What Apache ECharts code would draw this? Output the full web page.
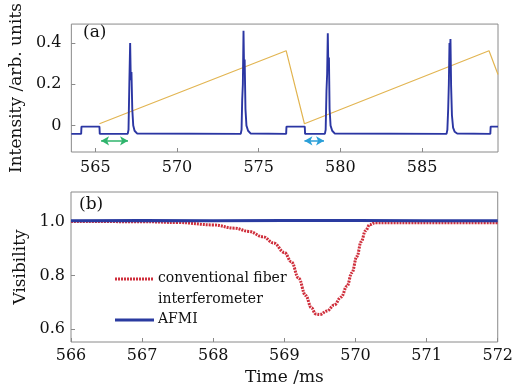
<!DOCTYPE html>
<html><head><meta charset="utf-8">
<script src="https://cdn.jsdelivr.net/npm/echarts@6/dist/echarts.min.js"></script>
<style>html,body{margin:0;padding:0;background:#fff}#c{width:516px;height:387px}</style>
</head><body><div id="c"></div>
<script>
// ---- Panel (a) data ----
const aXTicks = [565, 570, 575, 580, 585];
const aYTicks = [0, 0.2, 0.4];
const aIntensity = [
  [563.53,-0.04],[564.13,-0.04],[564.15,-0.005],[565.25,-0.005],[565.27,-0.04],
  [566.98,-0.04],[567.03,-0.02],[567.08,0.2],[567.13,0.40],[567.17,0.22],[567.21,0.26],[567.26,0.08],[567.32,0.0],[567.4,-0.025],[567.55,-0.038],
  [573.9,-0.04],[573.95,-0.02],[573.99,0.125],[574.03,0.2],[574.07,0.46],[574.1,0.3],[574.14,0.32],[574.19,0.08],[574.25,0.0],[574.35,-0.025],[574.5,-0.038],
  [576.68,-0.04],[576.7,-0.005],[577.82,-0.005],[577.84,-0.04],
  [579.05,-0.04],[579.1,-0.02],[579.15,0.17],[579.19,0.25],[579.23,0.447],[579.26,0.3],[579.3,0.33],[579.34,0.08],[579.4,0.0],[579.5,-0.025],[579.65,-0.038],
  [586.5,-0.04],[586.55,-0.02],[586.6,0.08],[586.64,0.2],[586.68,0.40],[586.71,0.35],[586.74,0.42],[586.78,0.19],[586.83,0.05],[586.9,-0.01],[587.0,-0.03],[587.15,-0.038],
  [589.18,-0.04],[589.2,-0.005],[589.65,-0.005]
];
const aRamp = [[565.25,0.009],[576.68,0.363],[577.8,0.009],[589.1,0.363],[589.65,0.248]];
const aArrowGreen = [[565.35,-0.074],[567.0,-0.074]];
const aArrowBlue = [[577.8,-0.074],[579.0,-0.074]];

// ---- Panel (b) data ----
const bYTicks = [0.6, 0.8, 1.0];
const bConventional = [
  [566,1.0],[567,0.999],[567.5,0.996],[568.0,0.987],[568.3,0.975],[568.5,0.963],[568.7,0.943],[568.85,0.92],[569.0,0.885],
  [569.1,0.85],[569.2,0.79],[569.3,0.725],[569.38,0.68],[569.44,0.657],[569.5,0.655],[569.6,0.668],[569.7,0.69],[569.8,0.72],
  [569.88,0.76],[569.95,0.81],[570.02,0.87],[570.08,0.925],[570.14,0.965],[570.2,0.988],[570.28,0.995],[571,0.995],[572,0.995]
];
const bAFMI = [[566,1.002],[567,1.003],[568,1.002],[569,1.003],[570,1.003],[571,1.002],[572,1.002]];

const serif = '"DejaVu Serif", serif';
const axisCol = '#8a8a8a';

const chart = echarts.init(document.getElementById('c'), null, {renderer:'canvas'});
chart.setOption({
  animation: false,
  backgroundColor: '#fff',
  grid: [
    {left:71, right:18, top:17, height:135, show:true, borderColor:axisCol, borderWidth:1},
    {left:71, right:16, top:192, height:152, show:true, borderColor:axisCol, borderWidth:1}
  ],
  xAxis: [
    {type:'value', gridIndex:0, min:563.53, max:589.65,
     axisLine:{show:false, onZero:false}, splitLine:{show:false},
     axisTick:{show:true, inside:true, length:4, lineStyle:{color:axisCol}, customValues:aXTicks},
     axisLabel:{customValues:aXTicks, fontFamily:serif, fontSize:16, color:'#111', margin:8}},
    {type:'value', gridIndex:1, min:566, max:572, interval:1,
     name:'Time /ms', nameLocation:'middle', nameGap:27, nameTextStyle:{fontFamily:serif, fontSize:17, color:'#111'},
     axisLine:{show:false, onZero:false}, splitLine:{show:false},
     axisTick:{show:true, inside:true, length:4, lineStyle:{color:axisCol}},
     axisLabel:{fontFamily:serif, fontSize:16, color:'#111', margin:6}}
  ],
  yAxis: [
    {type:'value', gridIndex:0, min:-0.128, max:0.492,
     name:'Intensity /arb. units', nameLocation:'middle', nameGap:46, nameTextStyle:{fontFamily:serif, fontSize:17, color:'#111'},
     axisLine:{show:false, onZero:false}, splitLine:{show:false},
     axisTick:{show:true, inside:true, length:4, lineStyle:{color:axisCol}, customValues:aYTicks},
     axisLabel:{customValues:aYTicks, fontFamily:serif, fontSize:16, color:'#111', margin:10,
       formatter:v => (Math.abs(v)<1e-9 ? '0' : v.toFixed(1))}},
    {type:'value', gridIndex:1, min:0.553, max:1.109,
     name:'Visibility', nameLocation:'middle', nameGap:40, nameTextStyle:{fontFamily:serif, fontSize:17, color:'#111'},
     axisLine:{show:false, onZero:false}, splitLine:{show:false},
     axisTick:{show:true, inside:true, length:4, lineStyle:{color:axisCol}, customValues:bYTicks},
     axisLabel:{customValues:bYTicks, fontFamily:serif, fontSize:16, color:'#111', margin:6,
       formatter:v => v.toFixed(1)}}
  ],
  series: [
    {type:'line', xAxisIndex:0, yAxisIndex:0, data:aRamp, symbol:'none',
     lineStyle:{color:'#e2b552', width:1.2}, z:2},
    {type:'line', xAxisIndex:0, yAxisIndex:0, data:aIntensity, symbol:'none',
     lineStyle:{color:'#2b36a3', width:1.9}, z:3},
    {type:'line', xAxisIndex:0, yAxisIndex:0, data:[], symbol:'none',
     markLine:{silent:true, symbol:['arrow','arrow'], symbolSize:[7,8], label:{show:false},
       lineStyle:{color:'#2fb46c', width:1.5, type:'solid'},
       data:[[{coord:aArrowGreen[0]},{coord:aArrowGreen[1]}]]}},
    {type:'line', xAxisIndex:0, yAxisIndex:0, data:[], symbol:'none',
     markLine:{silent:true, symbol:['arrow','arrow'], symbolSize:[7,8], label:{show:false},
       lineStyle:{color:'#2a9fd8', width:1.5, type:'solid'},
       data:[[{coord:aArrowBlue[0]},{coord:aArrowBlue[1]}]]}},
    {type:'line', xAxisIndex:1, yAxisIndex:1, data:bConventional, symbol:'none', smooth:0.4, smoothMonotone:'x',
     lineStyle:{color:'#cf2f3c', width:3, type:[2,1]}, z:2},
    {type:'line', xAxisIndex:1, yAxisIndex:1, data:bAFMI, symbol:'none',
     lineStyle:{color:'#2a3ba0', width:3}, z:3}
  ],
  graphic: [
    {type:'text', left:83, top:24, style:{text:'(a)', font:'17px '+serif, fill:'#111'}},
    {type:'text', left:79, top:196, style:{text:'(b)', font:'17px '+serif, fill:'#111'}},
    {type:'line', shape:{x1:115, y1:279, x2:154, y2:279}, style:{stroke:'#cf2f3c', lineWidth:3, lineDash:[2,1]}},
    {type:'text', left:158, top:271, style:{text:'conventional fiber', font:'14px '+serif, fill:'#111'}},
    {type:'text', left:158, top:292, style:{text:'interferometer', font:'14px '+serif, fill:'#111'}},
    {type:'line', shape:{x1:115, y1:320, x2:154, y2:320}, style:{stroke:'#2a3ba0', lineWidth:3}},
    {type:'text', left:158, top:312, style:{text:'AFMI', font:'14px '+serif, fill:'#111'}}
  ]
});
</script></body></html>
